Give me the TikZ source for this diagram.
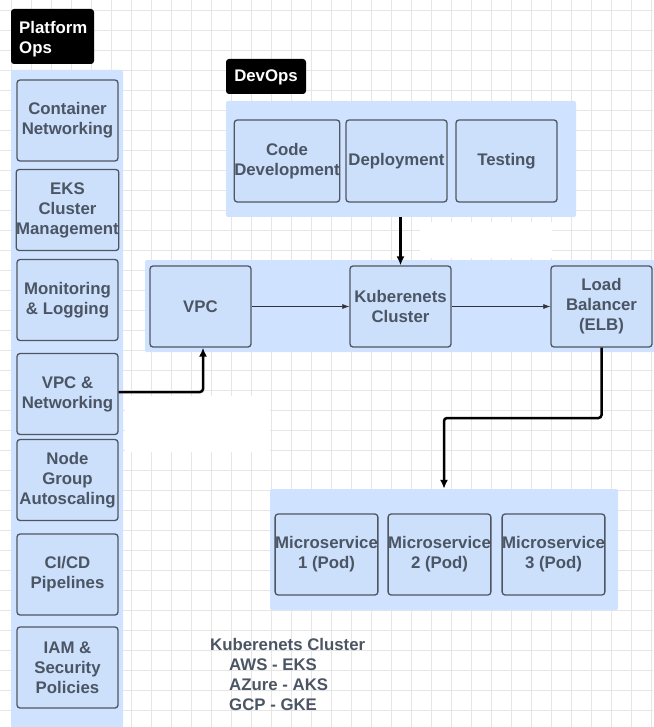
\documentclass[tikz,border=0pt]{standalone}
\usepackage{fontspec}
\setmainfont{Liberation Sans}
\usetikzlibrary{arrows.meta}
\definecolor{panelc}{RGB}{207,226,255}
\definecolor{boxfill}{RGB}{204,224,252}
\definecolor{txt}{RGB}{75,85,99}
\definecolor{gridc}{RGB}{230,230,230}
\definecolor{edgec}{RGB}{80,86,96}
\begin{document}
\begin{tikzpicture}[x=1pt,y=-1pt,
  box/.style={draw=edgec, line width=1.3pt, rounded corners=3pt, fill=boxfill,
    minimum width=101pt, minimum height=81pt, inner sep=0pt, align=center,
    font=\bfseries\fontsize{16.8}{20}\selectfont, text=txt},
  panel/.style={fill=panelc, rounded corners=2pt, inner sep=0pt},
  tagbg/.style={fill=black, rounded corners=3pt},
  tagtext/.style={text=white, font=\bfseries\fontsize{16.8}{20}\selectfont, inner sep=0pt},
  thinarrow/.style={-{Latex[length=7pt,width=5pt]}, line width=0.6pt, draw=black!80},
  thickarrow/.style={-{Latex[length=9pt,width=8pt]}, line width=2.5pt, rounded corners=3pt}]
\useasboundingbox (0,0) rectangle (653,727);
% grid
\foreach \i in {0,...,32} {\draw[gridc, line width=0.9pt] (11.7+20*\i,0) -- (11.7+20*\i,727);}
\foreach \j in {0,...,36} {\draw[gridc, line width=0.9pt] (0,10+20*\j) -- (653,10+20*\j);}
\fill[white] (125,396) rectangle (270,452);
\fill[white] (420,222) rectangle (552,258);

% panels
\node[panel, minimum width=112pt, minimum height=660pt] (pp) at (67,400) {};
\node[panel, minimum width=350pt, minimum height=116pt] (dp) at (401,159) {};
\node[panel, minimum width=510pt, minimum height=92pt] (mp) at (400,306) {};
\node[panel, minimum width=348pt, minimum height=121pt] (sp) at (444,549.5) {};

% tags
\fill[tagbg] (11,9) rectangle (94,64);
\node[tagtext, anchor=north west, align=left] (ptag) at (19,21) {Platform\\Ops};
\fill[tagbg] (226,59) rectangle (306,94);
\node[tagtext] (dtag) at (266,77) {DevOps};

% platform boxes
\node[box] (cn) at (67.5,120.5) {Container\\Networking};
\node[box] (eks) at (67.5,210) {EKS\\Cluster\\Management};
\node[box] (mon) at (67.5,300) {Monitoring\\\& Logging};
\node[box] (vpcn) at (67.5,394) {VPC \&\\Networking};
\node[box] (ng) at (67.5,480) {Node\\Group\\Autoscaling};
\node[box] (cicd) at (67.5,574.5) {CI/CD\\Pipelines};
\node[box] (iam) at (67.5,667.5) {IAM \&\\Security\\Policies};

% devops boxes
\node[box, minimum width=102pt, minimum height=82pt] (code) at (287,161) {Code\\Development};
\node[box, minimum height=82pt] (dep) at (396.5,161) {Deployment};
\node[box, minimum height=82pt] (test) at (506.5,161) {Testing};

% middle boxes
\node[box] (vpc) at (200.5,306.5) {VPC};
\node[box] (kc) at (400.5,306.5) {Kuberenets\\Cluster};
\node[box] (lb) at (601.5,306.5) {Load\\Balancer\\(ELB)};

% microservices
\node[box] (m1) at (326.5,554.5) {Microservice\\1 (Pod)};
\node[box] (m2) at (439.5,554.5) {Microservice\\2 (Pod)};
\node[box] (m3) at (553.5,554.5) {Microservice\\3 (Pod)};

% connectors
\draw[thickarrow] (dp.south -| kc.north) -- (kc.north);
\draw[thinarrow] (vpc.east) -- (kc.west);
\draw[thinarrow] (kc.east) -- (lb.west);
\coordinate (c1) at (203,392);
\draw[thickarrow] (vpcn.east |- c1) -- (c1) -- (c1 |- vpc.south);
\coordinate (c2) at (444,418);
\draw[thickarrow] (lb.south) -- (lb.south |- c2) -- (c2) -- (c2 |- sp.north);

% note
\node[anchor=north west, align=left, inner sep=0pt, text=txt,
  font=\bfseries\fontsize{16.8}{20}\selectfont] (note) at (210,638)
  {Kuberenets Cluster\\\hspace*{19pt}AWS - EKS\\\hspace*{19pt}AZure - AKS\\\hspace*{19pt}GCP - GKE};
\end{tikzpicture}
\end{document}
